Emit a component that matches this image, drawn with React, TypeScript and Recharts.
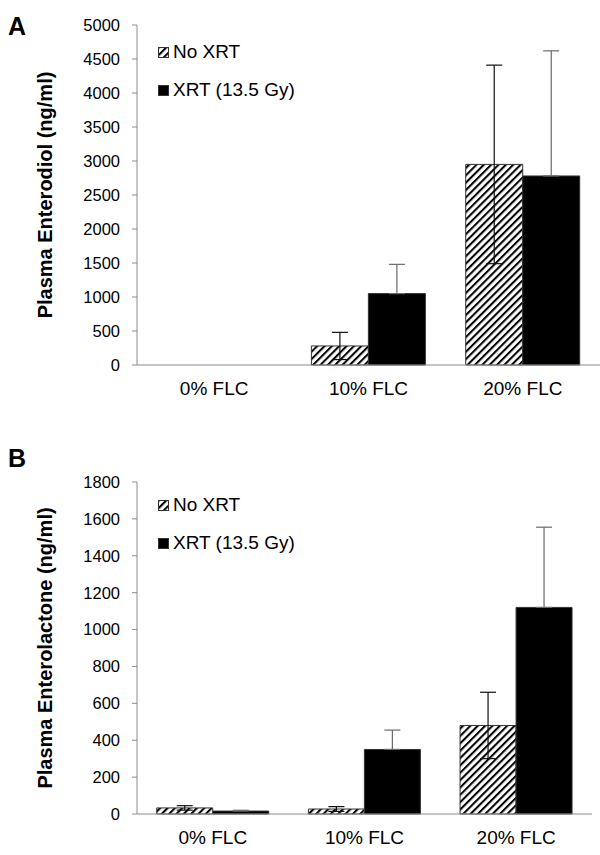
import React from "react";
import {
  BarChart,
  Bar,
  XAxis,
  YAxis,
  ErrorBar,
  Legend,
} from "recharts";

const categories = ["0% FLC", "10% FLC", "20% FLC"];

const seriesNames = ["No XRT", "XRT (13.5 Gy)"];

// Panel A: plasma enterodiol (ng/ml)
const diolNoXrt = [0, 280, 2950];
const diolNoXrtErr = [0, 200, 1460];
const diolXrt = [0, 1050, 2780];
const diolXrtErr = [0, 430, 1840];
const diolTicks = [0, 500, 1000, 1500, 2000, 2500, 3000, 3500, 4000, 4500, 5000];

// Panel B: plasma enterolactone (ng/ml)
const lactNoXrt = [33, 27, 480];
const lactNoXrtErr = [12, 13, 180];
const lactXrt = [16, 350, 1120];
const lactXrtErr = [4, 105, 435];
const lactTicks = [0, 200, 400, 600, 800, 1000, 1200, 1400, 1600, 1800];

const edgeTicks = [0, 1, 2, 3];

const FONT = "Arial, 'Liberation Sans', sans-serif";
const AXIS = "#8c8c8c";

function makeRows(a: number[], aErr: number[], b: number[], bErr: number[]) {
  return categories.map((name, i) => ({
    name,
    noXrt: a[i],
    noXrtErr: aErr[i],
    xrt: b[i],
    xrtErr: bErr[i],
  }));
}

const fills: Record<string, (id: string) => string> = {
  noXrt: (id) => `url(#${id})`,
  xrt: () => "#000",
};

function LegendBox({ payload, patternId }: any) {
  return (
    <div style={{ fontFamily: FONT, fontSize: 19, color: "#000" }}>
      {(payload || []).map((entry: any) => (
        <div
          key={entry.value}
          style={{ display: "flex", alignItems: "center", height: 38 }}
        >
          <svg width={11} height={11} style={{ marginRight: 4 }}>
            <rect
              x={0.5}
              y={0.5}
              width={10}
              height={10}
              fill={fills[entry.dataKey](patternId)}
              stroke="#333"
              strokeWidth={1}
            />
          </svg>
          <span>{entry.value}</span>
        </div>
      ))}
    </div>
  );
}

function Panel({
  data,
  ticks,
  max,
  label,
  patternId,
  height,
  margin,
  legendTop,
}: any) {
  return (
    <BarChart
      width={600}
      height={height}
      data={data}
      margin={margin}
      barCategoryGap="13%"
      barGap={0}
      style={{ fontFamily: FONT }}
    >
      <defs>
        <pattern
          id={patternId}
          patternUnits="userSpaceOnUse"
          width={5.2}
          height={5.2}
          patternTransform="rotate(45)"
        >
          <rect width={5.2} height={5.2} fill="#fff" />
          <line x1={1} y1={0} x2={1} y2={5.2} stroke="#000" strokeWidth={2.1} />
        </pattern>
      </defs>
      <XAxis
        xAxisId="edge"
        type="number"
        domain={[0, 3]}
        ticks={edgeTicks}
        allowDataOverflow
        tick={false}
        axisLine={false}
        tickLine={{ stroke: AXIS }}
        tickSize={6}
        height={0}
      />
      <XAxis
        dataKey="name"
        tickLine={false}
        tickSize={0}
        tickMargin={17}
        axisLine={{ stroke: AXIS }}
        tick={{ fill: "#000", fontSize: 19, fontFamily: FONT }}
        height={30}
      />
      <YAxis
        domain={[0, max]}
        ticks={ticks}
        interval={0}
        width={100}
        axisLine={{ stroke: AXIS }}
        tickLine={{ stroke: AXIS }}
        tickSize={5}
        tickMargin={12}
        tick={{ fill: "#000", fontSize: 16.5, fontFamily: FONT }}
        label={{
          value: label,
          angle: -90,
          position: "insideLeft",
          offset: 8,
          style: {
            textAnchor: "middle",
            fontWeight: "bold",
            fontSize: 20,
            fill: "#000",
            fontFamily: FONT,
          },
        }}
      />
      <Legend
        layout="vertical"
        align="center"
        verticalAlign="middle"
        wrapperStyle={{ left: 158, top: legendTop, width: 230 }}
        content={(props: any) => <LegendBox {...props} patternId={patternId} />}
      />
      <Bar
        dataKey="noXrt"
        name={seriesNames[0]}
        fill={`url(#${patternId})`}
        stroke="#333"
        strokeWidth={1}
        isAnimationActive={false}
      >
        <ErrorBar dataKey="noXrtErr" width={8} stroke="#111" strokeWidth={1.2} />
      </Bar>
      <Bar
        dataKey="xrt"
        name={seriesNames[1]}
        fill="#000"
        stroke="#333"
        strokeWidth={1}
        isAnimationActive={false}
      >
        {/* lower whisker sits inside the solid bar, so only the upper half shows */}
        <ErrorBar
          dataKey={(row: any) => [0, row.xrtErr]}
          width={8}
          stroke="#6a6a6a"
          strokeWidth={1.2}
        />
      </Bar>
    </BarChart>
  );
}

const panelLetter: React.CSSProperties = {
  position: "absolute",
  left: 8,
  fontFamily: FONT,
  fontWeight: "bold",
  fontSize: 25,
  lineHeight: 1,
  color: "#000",
};

export default function App() {
  return (
    <div
      style={{
        position: "absolute",
        left: 0,
        top: 0,
        width: 600,
        height: 855,
        background: "#fff",
        overflow: "hidden",
      }}
    >
      <div style={{ ...panelLetter, top: 14 }}>A</div>
      <div style={{ ...panelLetter, top: 446 }}>B</div>
      <div style={{ position: "absolute", left: 0, top: 0 }}>
        <Panel
          data={makeRows(diolNoXrt, diolNoXrtErr, diolXrt, diolXrtErr)}
          ticks={diolTicks}
          max={5000}
          label="Plasma Enterodiol (ng/ml)"
          patternId="hatchA"
          height={410}
          margin={{ top: 25, right: 0, left: 37, bottom: 15 }}
          legendTop={33}
        />
      </div>
      <div style={{ position: "absolute", left: 0, top: 430 }}>
        <Panel
          data={makeRows(lactNoXrt, lactNoXrtErr, lactXrt, lactXrtErr)}
          ticks={lactTicks}
          max={1800}
          label="Plasma Enterolactone (ng/ml)"
          patternId="hatchB"
          height={425}
          margin={{ top: 52, right: 8, left: 37, bottom: 11 }}
          legendTop={56}
        />
      </div>
    </div>
  );
}
